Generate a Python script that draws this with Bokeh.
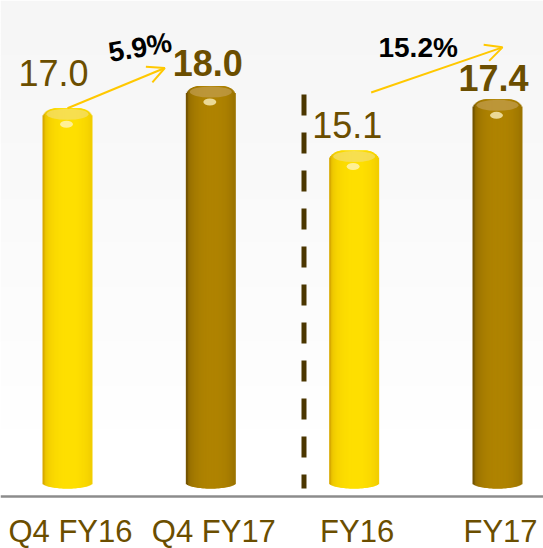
import numpy as np
from bokeh.plotting import figure
from bokeh.models import ColumnDataSource, Arrow, OpenHead, Span, Range1d
from bokeh.embed import file_html
from bokeh.resources import INLINE
from bokeh.core.properties import value

# ---- data ----
categories = ["Q4 FY16", "Q4 FY17", "FY16", "FY17"]
values = [17.0, 18.0, 15.1, 17.4]
value_labels = ["17.0", "18.0", "15.1", "17.4"]
label_bold = [False, True, False, True]
bar_kind = ["light", "dark", "light", "dark"]
growth_labels = ["5.9%", "15.2%"]

# ---- layout ----
W, H = 543, 548
KX = 143.33
KY = 22.25
X0 = -67 / KX
X1 = X0 + W / KX
Y1 = 486 / KY
Y0 = Y1 - H / KY


def dx(px):
    return px / KX


def dy(px):
    return px / KY


def tcomp(size):
    # baseline correction for svg text placement
    return dy(0.38 * size)


p = figure(width=W, height=H, x_range=Range1d(X0, X1), y_range=Range1d(Y0, Y1),
           output_backend="svg", toolbar_location=None, min_border=0)
p.xaxis.visible = False
p.yaxis.visible = False
p.grid.visible = False
p.outline_line_color = None
p.background_fill_color = "white"
p.border_fill_color = "white"

# background gradient
nb = 40
g_top = np.array([246, 246, 246])
g_bot = np.array([255, 255, 255])
span_px = 440
bands = dict(top=[], bottom=[], color=[])
for k in range(nb):
    t = k / (nb - 1)
    c = (g_top + (g_bot - g_top) * t).astype(int)
    bands["top"].append(Y1 - dy(k * span_px / nb))
    bands["bottom"].append(Y1 - dy((k + 1) * span_px / nb) - dy(0.5))
    bands["color"].append("#%02x%02x%02x" % tuple(c))
p.quad(left=X0, right=X1, top="top", bottom="bottom", color="color",
       source=ColumnDataSource(bands), line_color=None)

# cylinder bars drawn as overlapping vertical strips
palette = {
    "light": (np.array([216, 170, 0]), np.array([255, 224, 0])),
    "dark": (np.array([116, 84, 0]), np.array([176, 132, 0])),
}
half = 25.0
sw = 2.5
n = 48
rc_x, rc_y = 14.0, 12.0
strips = dict(x=[], top=[], bottom=[], color=[])
for i, v in enumerate(values):
    edge, center = palette[bar_kind[i]]
    for j in range(n):
        u_px = -half + sw / 2 + j * (2 * half - sw) / (n - 1)
        u = u_px / half
        a = abs(u_px)
        if a <= half - rc_x:
            top_px = 0.0
        else:
            d = min((a - (half - rc_x)) / rc_x, 1.0)
            top_px = -rc_y * (1 - np.sqrt(max(1 - d * d, 0)))
        s = np.sqrt(max(1 - (u - 0.1) ** 2, 0)) ** 0.6
        c = (edge + (center - edge) * s).astype(int)
        bottom_px = 4 - 6 * np.sqrt(max(1 - u * u, 0))
        strips["x"].append(i + dx(u_px))
        strips["top"].append(v + dy(top_px))
        strips["bottom"].append(dy(bottom_px))
        strips["color"].append("#%02x%02x%02x" % tuple(c))
p.vbar(x="x", top="top", bottom="bottom", width=dx(sw), color="color",
       source=ColumnDataSource(strips), line_color=None)

# top surface + highlight
cap_col = {"light": "#F4DE70", "dark": "#C29E50"}
tops = dict(x=list(range(len(values))), y=[v - dy(6) for v in values],
            color=[cap_col[k] for k in bar_kind])
p.ellipse(x="x", y="y", width=dx(42), height=dy(11), color="color", alpha=0.7,
          source=ColumnDataSource(tops), line_color=None)
hl = dict(x=[i - dx(1) for i in range(len(values))], y=[v - dy(16) for v in values])
p.ellipse(x="x", y="y", width=dx(13), height=dy(7), color="#FFF6C8", alpha=0.75,
          source=ColumnDataSource(hl), line_color=None)

# baseline
p.add_layout(Span(location=-dy(10), dimension="width", line_color="#8C8C8C", line_width=2.5))

# dashed separator
p.segment(x0=[1.65], y0=[values[2] + dy(56)], x1=[1.65], y1=[-dy(2)],
          line_color="#4B3600", line_width=5, line_dash="21 17")

# value labels
lbl_dx = [-14, -3, -7, -4]
lbl_dy = [21.5, 9.5, 12, 8]
for i, v in enumerate(values):
    p.text(x=[i + dx(lbl_dx[i])], y=[v + dy(lbl_dy[i]) + tcomp(36)], text=[value_labels[i]],
           text_align="center", text_baseline="alphabetic",
           text_font=value("Liberation Sans"), text_font_size="36px",
           text_font_style="bold" if label_bold[i] else "normal",
           text_color="#6B4E00")

# category labels
for i, c in enumerate(categories):
    p.text(x=[i + dx(3)], y=[-dy(57) + tcomp(31)], text=[c], text_align="center",
           text_baseline="alphabetic", text_font=value("Liberation Sans"),
           text_font_size="31px", text_color="#6B4E00")

# growth arrows
arrow_col = "#FFC800"
p.add_layout(Arrow(end=OpenHead(size=17, line_color=arrow_col, line_width=2),
                   x_start=0, y_start=values[0],
                   x_end=1 - dx(46), y_end=values[1] + dy(18),
                   line_color=arrow_col, line_width=2))
p.add_layout(Arrow(end=OpenHead(size=17, line_color=arrow_col, line_width=2),
                   x_start=2 + dx(17), y_start=values[2] + dy(58),
                   x_end=3 + dx(5), y_end=values[3] + dy(52),
                   line_color=arrow_col, line_width=2))

# growth labels
p.text(x=[dx(72.5)], y=[values[1] + dy(28) + tcomp(28)], text=[growth_labels[0]], angle=0.17,
       text_align="center", text_baseline="alphabetic",
       text_font=value("Liberation Sans"), text_font_size="28px",
       text_font_style="bold", text_color="black")
p.text(x=[2 + dx(64)], y=[values[3] + dy(41) + tcomp(28)], text=[growth_labels[1]],
       text_align="center", text_baseline="alphabetic",
       text_font=value("Liberation Sans"), text_font_size="28px",
       text_font_style="bold", text_color="black")

open("out.html", "w").write(file_html(p, INLINE))
